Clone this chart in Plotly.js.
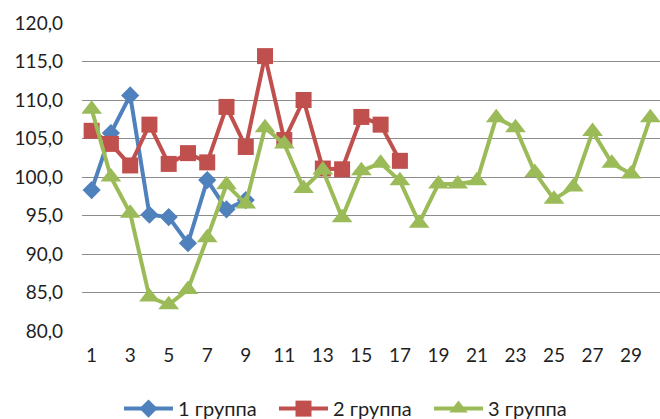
<!DOCTYPE html>
<html>
<head>
<meta charset="utf-8">
<script src="https://cdn.plot.ly/plotly-3.0.1.min.js"></script>
<style>html,body{margin:0;padding:0;background:#fff;}</style>
</head>
<body>
<div id="chart" style="width:660px;height:419px;"></div>
<script>
const days = [1,2,3,4,5,6,7,8,9,10,11,12,13,14,15,16,17,18,19,20,21,22,23,24,25,26,27,28,29,30];
const group1 = [98.3,105.7,110.6,95.1,94.8,91.4,99.6,95.8,97.0];
const group2 = [106.0,104.3,101.5,106.8,101.7,103.1,101.9,109.1,103.9,115.7,104.8,110.0,101.1,101.0,107.8,106.8,102.1];
const group3 = [108.8,100.0,95.3,84.4,83.4,85.4,92.1,99.0,96.5,106.4,104.3,98.5,100.9,94.7,100.8,101.8,99.5,94.0,99.1,99.1,99.5,107.7,106.4,100.6,97.1,98.7,105.9,101.8,100.4,107.7];
const names = ['1 группа','2 группа','3 группа'];
const tickVals = [1,3,5,7,9,11,13,15,17,19,21,23,25,27,29];
const yTicks = [80,85,90,95,100,105,110,115,120];
const yTickText = ['80,0','85,0','90,0','95,0','100,0','105,0','110,0','115,0','120,0'];

const font = {family: 'Lato, "Liberation Sans", sans-serif', size: 19, color: '#1f1f1f'};
const legendFont = {family: 'Lato, "Liberation Sans", sans-serif', size: 20, color: '#1f1f1f'};

const traces = [
  {x: days.slice(0, group1.length), y: group1, name: names[0], mode: 'lines+markers',
   line: {color: '#4F81BD', width: 4}, marker: {symbol: 'diamond', size: 14, color: '#4F81BD'}},
  {x: days.slice(0, group2.length), y: group2, name: names[1], mode: 'lines+markers',
   line: {color: '#C0504D', width: 4}, marker: {symbol: 'square', size: 16, color: '#C0504D'}},
  {x: days.slice(0, group3.length), y: group3, name: names[2], mode: 'lines+markers',
   line: {color: '#9BBB59', width: 4}, marker: {symbol: 'triangle-up', size: 18, color: '#9BBB59'}}
];

const layout = {
  width: 660, height: 419,
  margin: {l: 82, r: 0, t: 23, b: 88, autoexpand: false},
  paper_bgcolor: '#fff', plot_bgcolor: '#fff',
  font: font,
  showlegend: true,
  legend: {orientation: 'h', x: 0.064, xanchor: 'left', y: -0.252, yanchor: 'middle',
           font: legendFont, itemwidth: 49, entrywidth: 91, traceorder: 'normal'},
  xaxis: {range: [0.5, 30.5], tickmode: 'array', tickvals: tickVals, ticktext: tickVals.map(String),
          showgrid: false, zeroline: false, showline: false, ticks: '', ticklabelstandoff: 11,
          tickfont: font},
  yaxis: {range: [80, 120], tickmode: 'array', tickvals: yTicks, ticktext: yTickText,
          showgrid: true, gridcolor: '#8C8C8C', gridwidth: 1, zeroline: false, showline: false,
          ticks: '', ticklabelstandoff: 18, tickfont: font}
};

Plotly.newPlot('chart', traces, layout, {displayModeBar: false, staticPlot: true});
</script>
</body>
</html>
